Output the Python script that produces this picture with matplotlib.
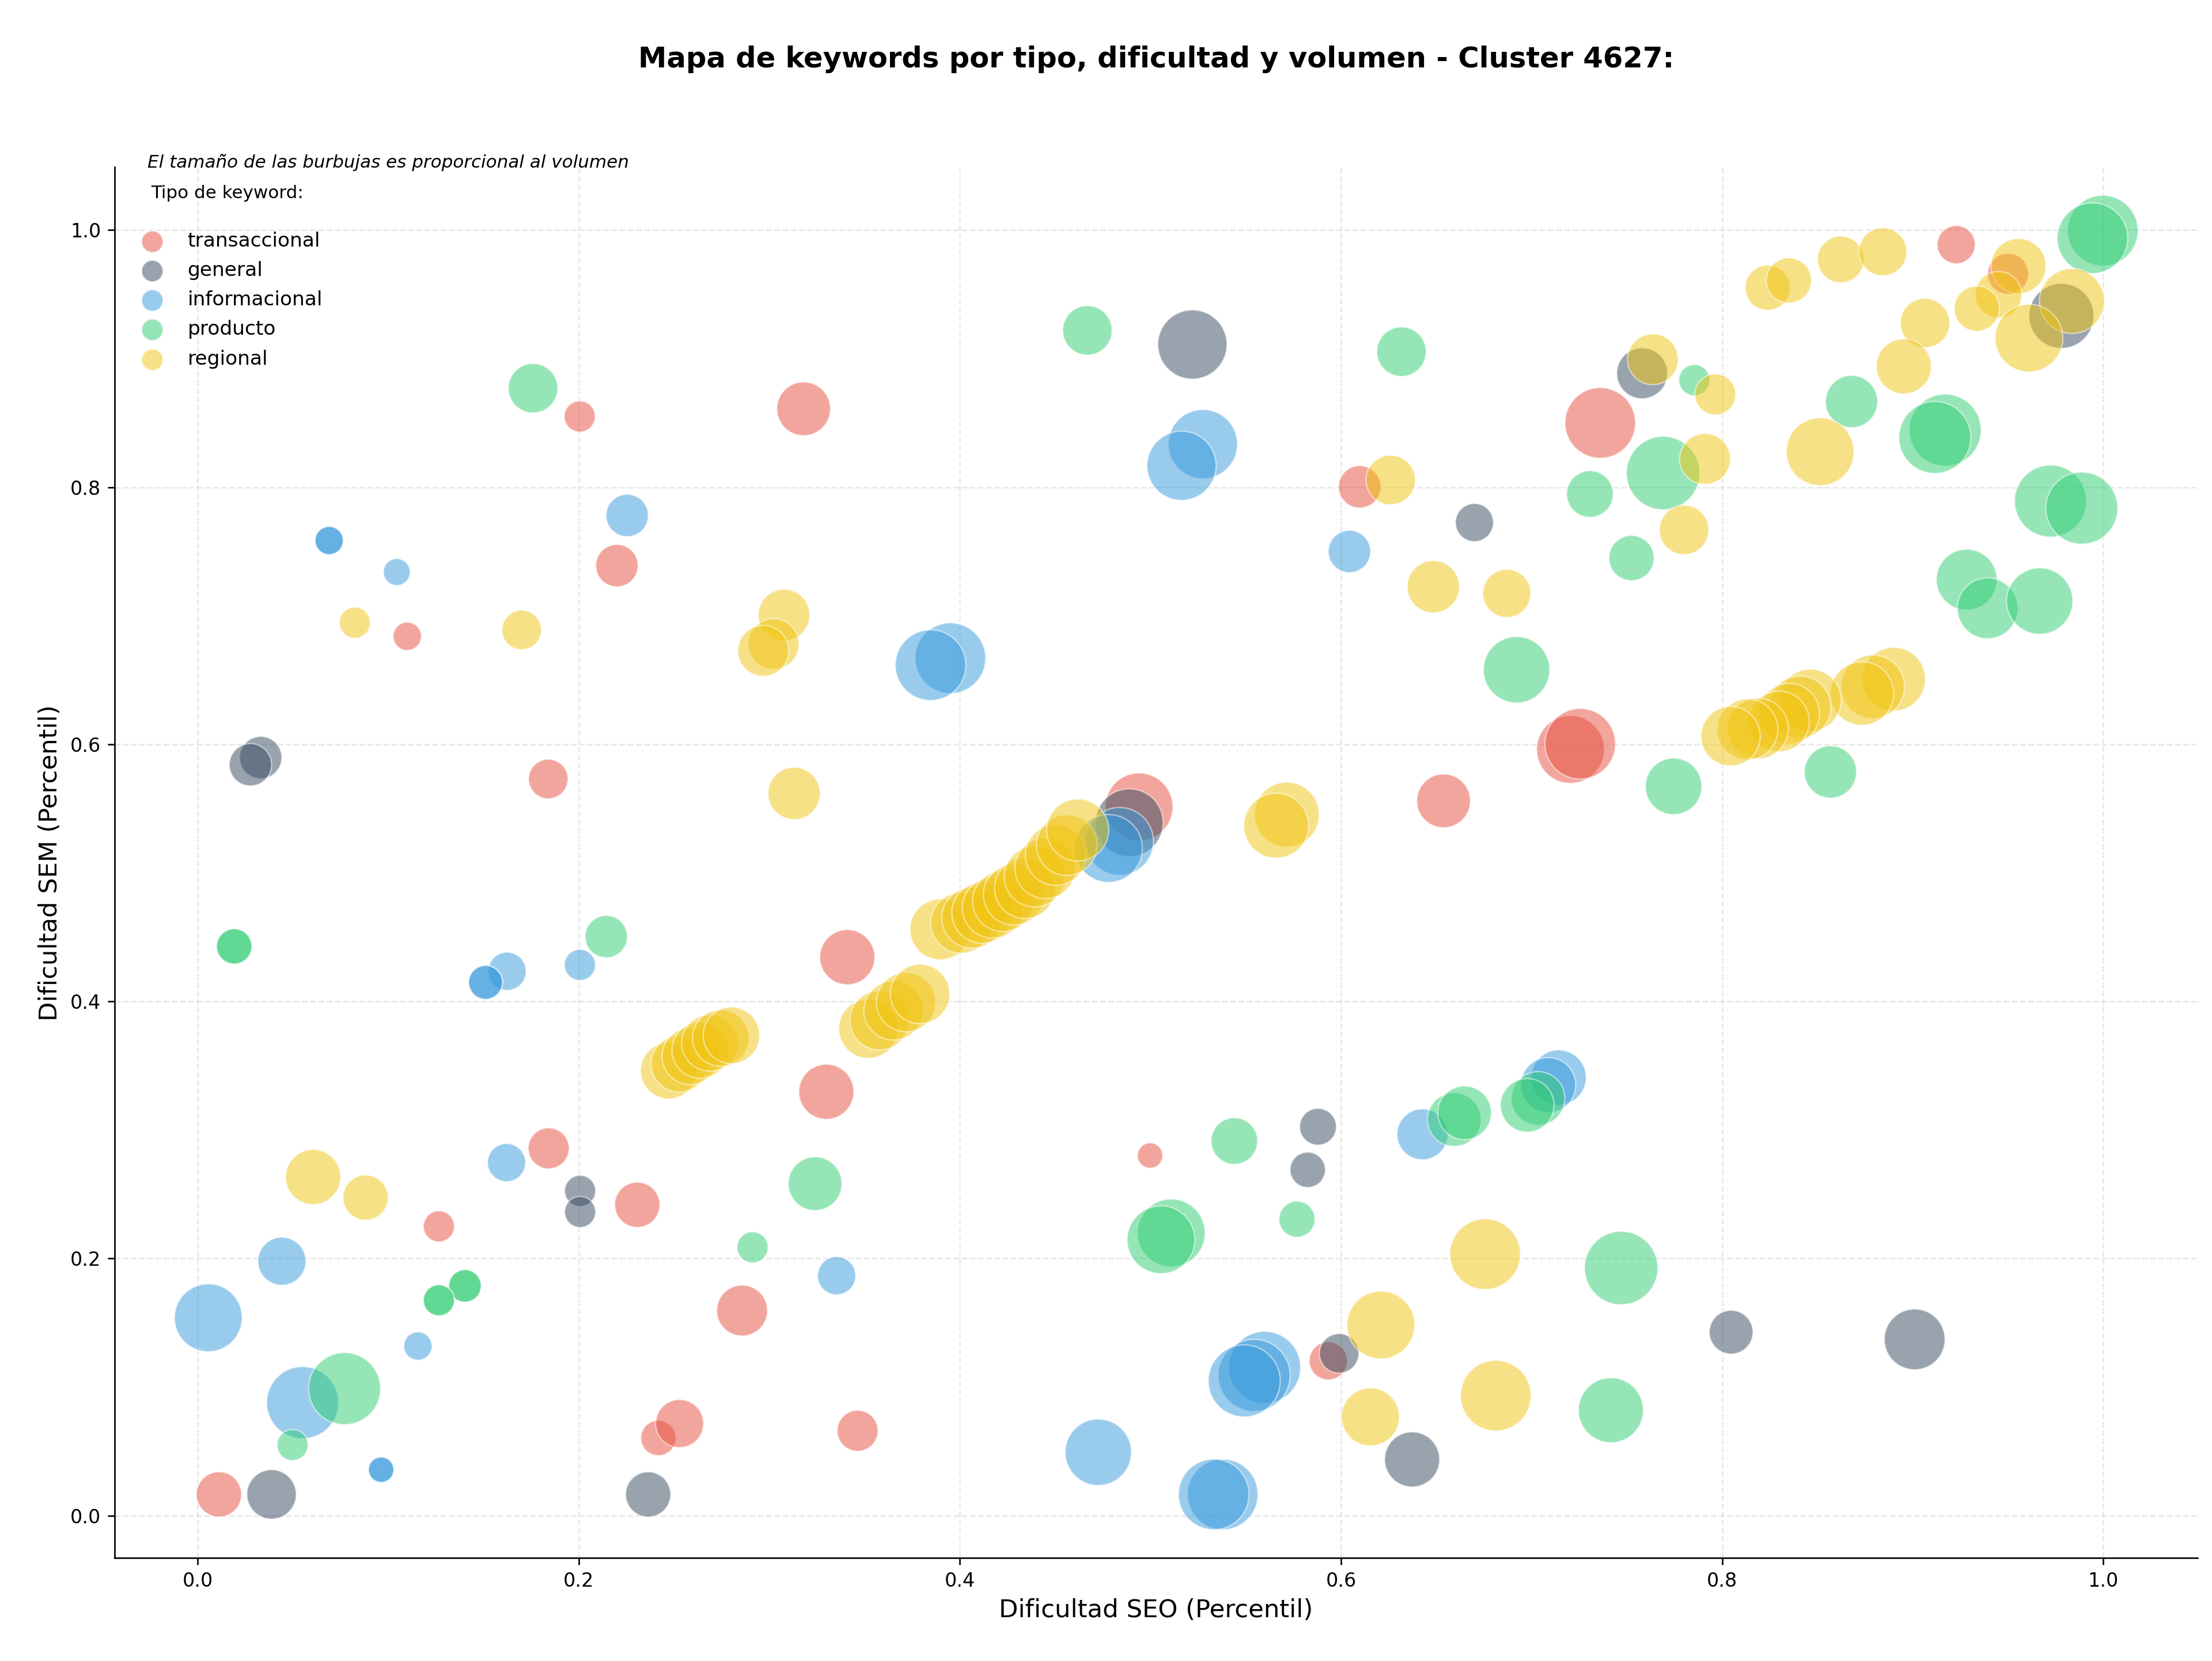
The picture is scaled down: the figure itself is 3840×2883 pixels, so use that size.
import matplotlib
matplotlib.use("Agg")
import matplotlib.pyplot as plt

# ---------------- data ----------------
tipos = ["transaccional", "general", "informacional", "producto", "regional"]
colores = {"transaccional": "#E74C3C", "general": "#34495E", "informacional": "#3498DB",
           "producto": "#2ECC71", "regional": "#F1C40F"}

trans_seo = [0.0112, 0.2005, 0.318, 0.220, 0.110, 0.184, 0.3409, 0.3299, 0.1842, 0.1266,
             0.2307, 0.2857, 0.2418, 0.2529, 0.3463, 0.4998, 0.494, 0.6098, 0.6538, 0.5933,
             0.736, 0.7204, 0.7255, 0.9228, 0.950]
trans_sem = [0.0165, 0.855, 0.861, 0.739, 0.684, 0.573, 0.4344, 0.3297, 0.2857, 0.225,
             0.2418, 0.1595, 0.0604, 0.0716, 0.066, 0.2801, 0.5513, 0.8003, 0.556, 0.1204,
             0.850, 0.596, 0.6004, 0.9887, 0.966]
trans_vol = [1024, 484, 1444, 900, 400, 784, 1521, 1521, 841, 484,
             1024, 1296, 625, 1156, 841, 324, 2304, 900, 1444, 729,
             2500, 2304, 2500, 729, 841]

gen_seo = [0.0331, 0.0277, 0.2007, 0.2007, 0.0388, 0.2364, 0.522, 0.670, 0.4889, 0.5879,
           0.5825, 0.599, 0.6373, 0.758, 0.978, 0.8047, 0.901]
gen_sem = [0.5897, 0.5841, 0.2526, 0.2362, 0.0165, 0.0165, 0.911, 0.7725, 0.539, 0.3025,
           0.269, 0.1262, 0.0437, 0.8886, 0.9333, 0.1427, 0.1371]
gen_vol = [900, 900, 484, 484, 1225, 1024, 2401, 729, 2304, 676,
           625, 784, 1521, 1296, 2116, 961, 1849]

info_seo = [0.069, 0.069, 0.1045, 0.2254, 0.1624, 0.1511, 0.1511, 0.2006, 0.1621, 0.0442,
            0.0056, 0.1156, 0.0551, 0.0963, 0.0963, 0.3353, 0.395, 0.3846, 0.5275, 0.5163,
            0.6044, 0.4838, 0.478, 0.6427, 0.7142, 0.7087, 0.5599, 0.5544, 0.5492, 0.4726,
            0.5379, 0.5332]
info_sem = [0.7585, 0.7585, 0.734, 0.778, 0.4234, 0.4148, 0.4148, 0.4284, 0.2746, 0.1979,
            0.1539, 0.1319, 0.0879, 0.0357, 0.0357, 0.1866, 0.667, 0.6616, 0.8335, 0.8167,
            0.750, 0.5245, 0.519, 0.2966, 0.3408, 0.3349, 0.1153, 0.1091, 0.1048, 0.0493,
            0.0165, 0.0165]
info_vol = [400, 400, 361, 900, 729, 576, 576, 484, 729, 1156,
            2304, 400, 2601, 324, 324, 729, 2500, 2500, 2401, 2401,
            900, 2304, 2304, 1296, 1521, 1521, 2601, 2601, 2601, 2209,
            2500, 2500]

prod_seo = [0.176, 0.4669, 0.6317, 0.0192, 0.0192, 0.2144, 0.2912, 0.1403, 0.1403, 0.1266,
            0.1266, 0.0771, 0.0498, 0.324, 0.544, 0.5769, 0.5109, 0.5055, 0.6594, 0.6648,
            0.7034, 0.6977, 0.747, 0.7416, 0.6921, 0.7306, 0.769, 0.7524, 0.7854, 0.8679,
            0.917, 0.9116, 0.9997, 0.9943, 0.9723, 0.9887, 0.9283, 0.9393, 0.9666, 0.7745,
            0.8568]
prod_sem = [0.877, 0.922, 0.9054, 0.4428, 0.4428, 0.4504, 0.2087, 0.1787, 0.1787, 0.1675,
            0.1675, 0.0988, 0.0549, 0.2582, 0.2914, 0.2306, 0.2199, 0.2146, 0.3081, 0.3133,
            0.3245, 0.3192, 0.1926, 0.082, 0.658, 0.7947, 0.811, 0.7449, 0.8833, 0.8666,
            0.8444, 0.8387, 0.9996, 0.9937, 0.7892, 0.7837, 0.7281, 0.7058, 0.7114, 0.5673,
            0.5785]
prod_vol = [1225, 1225, 1225, 625, 625, 900, 484, 529, 529, 484,
            484, 2601, 484, 1444, 1089, 650, 2304, 2304, 1444, 1444,
            1444, 1444, 2704, 2116, 2209, 1089, 2704, 1024, 484, 1369,
            2601, 2601, 2500, 2500, 2601, 2601, 1849, 1849, 2209, 1600,
            1369]

reg_seo = [0.0825, 0.170, 0.3077, 0.3022, 0.2968, 0.313, 0.0606, 0.0881,
           0.2472, 0.2528, 0.2585, 0.2637, 0.2688, 0.2745, 0.2801,
           0.3520, 0.3578, 0.3652, 0.3717, 0.3791,
           0.3897, 0.4006, 0.4064, 0.4117, 0.4172, 0.4226, 0.4283, 0.4341, 0.4392, 0.4448,
           0.4503, 0.4561, 0.4618,
           0.6484, 0.687, 0.626, 0.5715, 0.566, 0.6756, 0.6209, 0.6154, 0.6812,
           0.7636, 0.7964, 0.791, 0.780, 0.8239, 0.8350, 0.8622, 0.8843, 0.9555, 0.9450,
           0.9336, 0.9835, 0.961, 0.9064, 0.8953, 0.8514,
           0.890, 0.879, 0.8733, 0.8462, 0.8408, 0.8352, 0.8298, 0.8188, 0.8133, 0.8044]
reg_sem = [0.6946, 0.689, 0.7006, 0.678, 0.6727, 0.5618, 0.2634, 0.2474,
           0.3461, 0.3514, 0.3573, 0.3621, 0.3677, 0.3715, 0.3736,
           0.3788, 0.3853, 0.3930, 0.3994, 0.4058,
           0.4560, 0.4611, 0.4650, 0.4689, 0.4728, 0.4779, 0.4830, 0.4881, 0.4971, 0.5036,
           0.5139, 0.5216, 0.5333,
           0.7226, 0.7174, 0.8056, 0.5453, 0.5367, 0.2034, 0.1483, 0.0768, 0.0933,
           0.8995, 0.8722, 0.822, 0.7668, 0.9552, 0.9608, 0.9772, 0.9831, 0.972, 0.9497,
           0.9389, 0.9448, 0.916, 0.9277, 0.894, 0.8276,
           0.6507, 0.6448, 0.6395, 0.6343, 0.629, 0.6238, 0.6178, 0.6123, 0.6116, 0.6063]
reg_vol = [484, 784, 1332, 1296, 1296, 1369, 1521, 1024,
           1600, 1600, 1600, 1600, 1600, 1600, 1600,
           1764, 1764, 1764, 1764, 1764,
           1849, 1849, 1849, 1849, 1849, 1849, 1849, 1849, 1849, 1849,
           1849, 1849, 1936,
           1369, 1156, 1225, 2116, 2116, 2500, 2304, 1681, 2500,
           1296, 841, 1296, 1225, 1024, 1024, 1089, 1156, 1521, 1089,
           1024, 2116, 2304, 1225, 1521, 2304,
           2025, 2025, 2025, 1936, 1936, 1849, 1849, 1849, 1849, 1764]

series = {
    "transaccional": (trans_seo, trans_sem, trans_vol),
    "general": (gen_seo, gen_sem, gen_vol),
    "informacional": (info_seo, info_sem, info_vol),
    "producto": (prod_seo, prod_sem, prod_vol),
    "regional": (reg_seo, reg_sem, reg_vol),
}

titulo = "Mapa de keywords por tipo, dificultad y volumen - Cluster 4627:"
nota = "El tamaño de las burbujas es proporcional al volumen"

# ---------------- plot ----------------
escala = 0.54
fig = plt.figure(figsize=(16, 12.0125), dpi=240)
ax = fig.add_axes([0.0517, 0.0620, 0.9419, 0.8374])

for t in tipos:
    xs, ys, vs = series[t]
    ax.scatter(xs, ys, s=[v * escala for v in vs], c=colores[t], alpha=0.5,
               edgecolors="white", linewidths=0.7, zorder=3)

ax.set_xlim(-0.0437, 1.0496)
ax.set_ylim(-0.033, 1.049)
ax.grid(True, linestyle="--", alpha=0.3, zorder=0)
ax.set_axisbelow(True)
ax.spines["top"].set_visible(False)
ax.spines["right"].set_visible(False)

ax.set_xlabel("Dificultad SEO (Percentil)", fontsize=13)
ax.set_ylabel("Dificultad SEM (Percentil)", fontsize=13)
ax.set_title(titulo, fontsize=14.9, fontweight="bold", pad=52)

ax.text(0.016, 0.997, nota, transform=ax.transAxes, fontsize=9.3, style="italic",
        va="bottom", ha="left")

handles = [ax.scatter([], [], s=125, c=colores[t], alpha=0.5, edgecolors="white",
                      linewidths=0.7) for t in tipos]
ax.legend(handles, tipos, loc="upper left", frameon=False, fontsize=10.3,
          labelspacing=0.53, title="Tipo de keyword:\n", title_fontsize=9.3)

fig.savefig("out.png", dpi=240)
